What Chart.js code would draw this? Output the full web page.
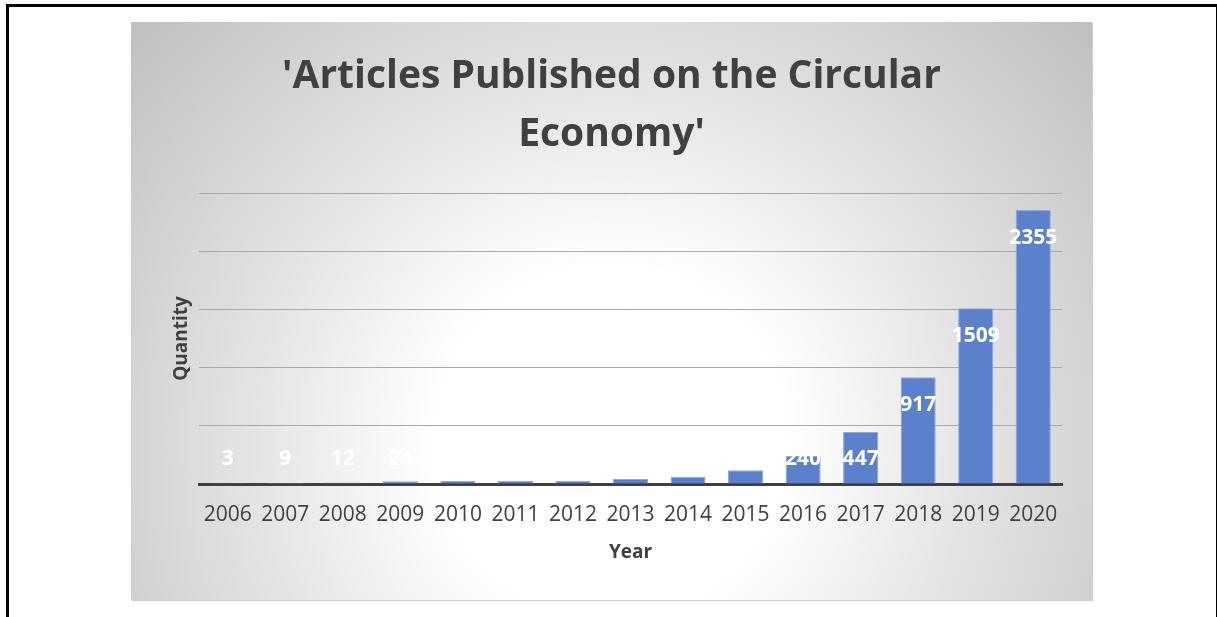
<!DOCTYPE html>
<html>
<head>
<meta charset="utf-8">
<script src="https://cdn.jsdelivr.net/npm/chart.js@4.4.1/dist/chart.umd.min.js"></script>
<style>
  html, body { margin: 0; padding: 0; background: #fff; overflow: hidden; }
  body { width: 1217px; height: 617px; position: relative; }
  .frame {
    position: absolute; left: 6px; top: 4px; width: 1207px; height: 700px;
    border: 3px solid #000; border-bottom: none;
  }
  .panel {
    position: absolute; left: 131px; top: 22px; width: 961px; height: 578px;
    background: radial-gradient(circle 640px at 480px 420px, #ffffff 0px, #ffffff 175px, #e4e4e4 360px, #bfbfbf 640px);
    box-shadow: 1px 1px 1px #d0d0d0;
  }
</style>
</head>
<body>
<div class="frame"></div>
<div class="panel"><canvas id="articlesChart" width="961" height="578"></canvas></div>
<script>
document.addEventListener("DOMContentLoaded", function () {
  // years and article counts per year
  const years = ["2006", "2007", "2008", "2009", "2010", "2011", "2012", "2013",
                 "2014", "2015", "2016", "2017", "2018", "2019", "2020"];
  const articles = [3, 9, 12, 24, 26, 27, 28, 44, 62, 118, 240, 447, 917, 1509, 2355];
  const yTicks = [0, 500, 1000, 1500, 2000, 2500];

  const FONT = "'Open Sans', 'Noto Sans', sans-serif";

  // white value labels sitting just inside the top of each bar
  const barLabels = {
    id: "barLabels",
    afterDatasetsDraw(chart) {
      const ctx = chart.ctx;
      const base = chart.scales.y.getPixelForValue(0);
      ctx.save();
      ctx.font = "bold 21px " + FONT;
      ctx.fillStyle = "#ffffff";
      ctx.textAlign = "center";
      ctx.textBaseline = "middle";
      chart.getDatasetMeta(0).data.forEach(function (bar, i) {
        const y = Math.min(bar.y + 28, base - 25);
        ctx.fillText(String(articles[i]), bar.x, y);
      });
      ctx.restore();
    },
  };

  new Chart(document.getElementById("articlesChart"), {
    type: "bar",
    data: {
      labels: years,
      datasets: [
        {
          data: articles,
          backgroundColor: "#5b80cc",
          borderColor: "#8ea8dc",
          borderWidth: 1,
          barPercentage: 0.61,
          categoryPercentage: 1,
        },
      ],
    },
    options: {
      responsive: false,
      animation: false,
      layout: { padding: { left: 30, right: 30, top: 0, bottom: 0 } },
      plugins: {
        legend: { display: false },
        tooltip: { enabled: false },
        title: {
          display: true,
          text: ["'Articles Published on the Circular", "Economy'"],
          color: "#404040",
          font: { family: FONT, size: 39, weight: "bold", lineHeight: 58 / 39 },
          padding: { top: 26, bottom: 29 },
        },
      },
      scales: {
        x: {
          grid: { display: false, drawTicks: false },
          border: { display: true, color: "#404040", width: 3 },
          ticks: { color: "#404040", font: { family: FONT, size: 21 }, padding: 18, maxRotation: 0 },
          title: {
            display: true,
            text: "Year",
            color: "#404040",
            font: { family: FONT, size: 19, weight: "bold" },
            padding: { top: 0, bottom: 36 },
          },
          afterFit(scale) { scale.height = 116; },
        },
        y: {
          min: 0,
          max: 2500,
          afterBuildTicks(scale) { scale.ticks = yTicks.map(function (v) { return { value: v }; }); },
          grid: { color: "#a9a9a9", lineWidth: 1, drawTicks: false },
          border: { display: false },
          ticks: { display: false },
          title: {
            display: true,
            text: "Quantity",
            color: "#404040",
            font: { family: FONT, size: 19, weight: "bold" },
            padding: { top: 9, bottom: 0 },
          },
          afterFit(scale) { scale.width = 38; },
        },
      },
    },
    plugins: [barLabels],
  });
});
</script>
</body>
</html>
